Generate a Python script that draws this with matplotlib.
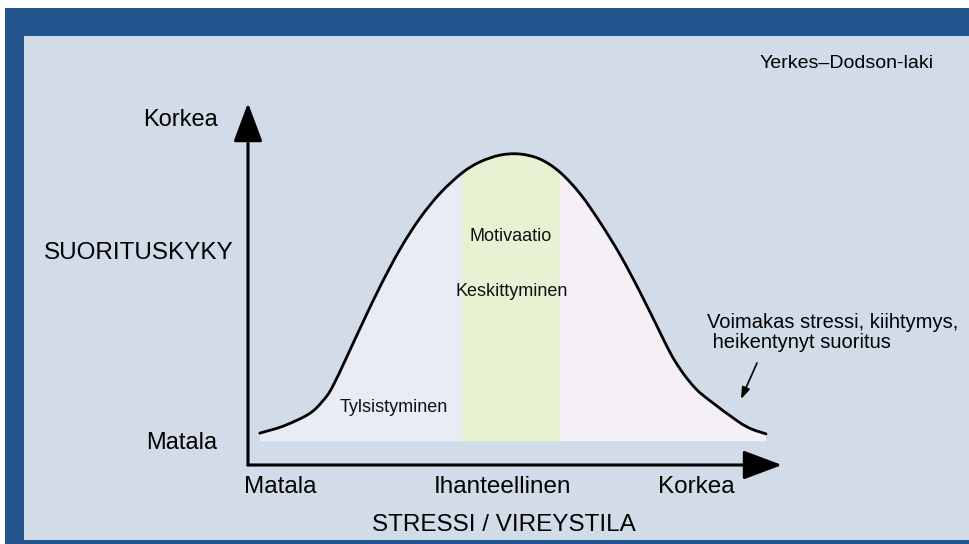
import numpy as np
import matplotlib
matplotlib.use("Agg")
import matplotlib.pyplot as plt
from matplotlib.patches import Rectangle, PathPatch
from matplotlib.path import Path

plt.rcParams['font.family'] = ['Liberation Sans', 'DejaVu Sans']

# ---- data (stress 0..10, performance 0..10) ----
stress = [0.22, 0.67, 1.14, 1.40, 1.61, 2.10, 2.47, 2.85, 3.22, 3.60, 4.01, 4.34,
          4.72, 5.09, 5.47, 5.84, 6.22, 6.59, 6.97, 7.34, 7.72, 7.94, 8.16, 8.39,
          8.63, 9.16, 9.42, 9.70]
performance = [0.88, 1.08, 1.41, 1.77, 2.24, 3.78, 4.92, 5.97, 6.82, 7.51, 8.07, 8.37,
               8.56, 8.59, 8.45, 8.09, 7.49, 6.71, 5.80, 4.78, 3.65, 3.01, 2.51, 2.10,
               1.80, 1.22, 1.00, 0.86]
fill_base = 0.66
zone_edges = [0.22, 4.01, 5.84, 9.70]
zone_labels = ["Tylsistyminen", "Motivaatio", "Keskittyminen"]
zone_label_x = [2.73, 4.91, 4.94]
zone_label_y = [1.60, 6.30, 4.78]
x_tick_pos = [0.60, 4.76, 8.39]
x_tick_labels = ["Matala", "Ihanteellinen", "Korkea"]
y_tick_pos = [0.69, 9.61]
y_tick_labels = ["Matala", "Korkea"]
x_title = "STRESSI / VIREYSTILA"
y_title = "SUORITUSKYKY"
chart_title = "Yerkes\u2013Dodson-laki"
note_lines = ["Voimakas stressi, kiihtymys,", " heikentynyt suoritus"]

W, H = 970, 544
fig = plt.figure(figsize=(W / 100, H / 100), dpi=100, facecolor='white')

# background / frame axes in pixel space
bg = fig.add_axes([0, 0, 1, 1])
bg.set_xlim(0, W)
bg.set_ylim(H, 0)
bg.axis('off')
bg.add_patch(Rectangle((5, 8), W - 5, H - 8, facecolor='#22558E', edgecolor='none'))
bg.add_patch(Rectangle((24, 36), W - 24, 540 - 36, facecolor='#D1DCE8', edgecolor='none'))

# main axes
ax = fig.add_axes([248 / W, (H - 465) / H, (782 - 248) / W, (465 - 103) / H])
ax.set_xlim(0, 10)
ax.set_ylim(0, 10)
ax.patch.set_visible(False)
for s in ax.spines.values():
    s.set_visible(False)

# smooth (Bezier) path through the read points
P = np.column_stack([stress, performance])
Pe = np.vstack([P[0], P, P[-1]])
verts = [tuple(P[0])]
codes = [Path.MOVETO]
for i in range(len(P) - 1):
    p0, p1, p2, p3 = Pe[i], Pe[i + 1], Pe[i + 2], Pe[i + 3]
    c1 = p1 + (p2 - p0) / 6.0
    c2 = p2 - (p3 - p1) / 6.0
    verts += [tuple(c1), tuple(c2), tuple(p2)]
    codes += [Path.CURVE4] * 3
curve_path = Path(verts, codes)

area_verts = verts + [(stress[-1], fill_base), (stress[0], fill_base), tuple(P[0])]
area_codes = codes + [Path.LINETO, Path.LINETO, Path.CLOSEPOLY]
area_path = Path(area_verts, area_codes)

zone_colors = ['#E8ECF5', '#E6F2D2', '#F4F0F6']
for i, c in enumerate(zone_colors):
    lo, hi = zone_edges[i], zone_edges[i + 1]
    patch = PathPatch(area_path, facecolor=c, edgecolor='none', zorder=1)
    ax.add_patch(patch)
    clip = Rectangle((lo, 0), hi - lo, 10, transform=ax.transData)
    patch.set_clip_path(clip)

ax.add_patch(PathPatch(curve_path, facecolor='none', edgecolor='black', lw=2.0,
                       zorder=3, capstyle='round'))

# axis arrows
akw = dict(arrowstyle='-|>,head_length=24,head_width=9', mutation_scale=1,
           color='black', lw=2.2, shrinkA=0, shrinkB=0)
ax.annotate('', xy=(1, 0), xytext=(0, 0), xycoords='axes fraction',
            arrowprops=akw, annotation_clip=False)
ax.annotate('', xy=(0, 1), xytext=(0, 0), xycoords='axes fraction',
            arrowprops=akw, annotation_clip=False)

ax.set_xticks(x_tick_pos)
ax.set_xticklabels(x_tick_labels, fontsize=17.5)
ax.set_yticks(y_tick_pos)
ax.set_yticklabels(y_tick_labels, fontsize=17)
ax.tick_params(axis='x', length=0, pad=8)
ax.tick_params(axis='y', length=0, pad=22)

# zone labels
for lbl, lx, ly in zip(zone_labels, zone_label_x, zone_label_y):
    ax.text(lx, ly, lbl, fontsize=13, ha='center', va='center', color='#111111', zorder=4)

# titles
bg.text(504, 525, x_title, fontsize=17.5, ha='center', va='center')
bg.text(234, 253, y_title, fontsize=17.5, ha='right', va='center')
bg.text(760, 63, chart_title, fontsize=14, ha='left', va='center')
bg.text(707, 323, note_lines[0], fontsize=14.5, ha='left', va='center')
bg.text(707, 343, note_lines[1], fontsize=14.5, ha='left', va='center')
bg.annotate('', xy=(741, 399), xytext=(757, 363),
            arrowprops=dict(arrowstyle='-|>,head_length=7,head_width=2.5', mutation_scale=1,
                            color='black', lw=1.2, shrinkA=0, shrinkB=0))

fig.savefig('out.png', dpi=100, facecolor='white')
